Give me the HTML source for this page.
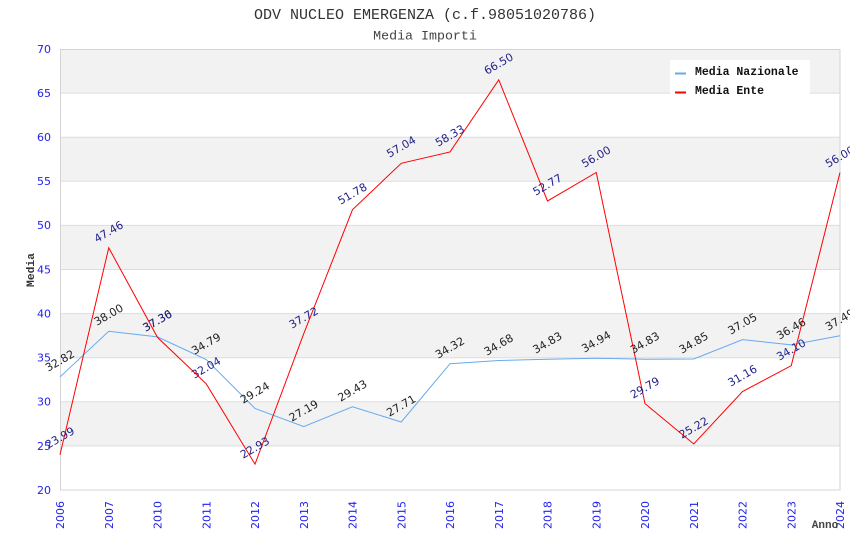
<!DOCTYPE html>
<html>
<head>
<meta charset="utf-8">
<style>
  html, body { margin: 0; padding: 0; background: #ffffff; }
  svg { display: block; }
</style>
</head>
<body>
<svg width="850" height="550" viewBox="0 0 850 550" xmlns="http://www.w3.org/2000/svg">
  <rect x="0" y="0" width="850" height="550" fill="#ffffff"/>
  <!-- bands -->
  <g fill="#f2f2f2">
    <rect x="60" y="49" width="780" height="44.1"/>
    <rect x="60" y="137.2" width="780" height="44.1"/>
    <rect x="60" y="225.4" width="780" height="44.1"/>
    <rect x="60" y="313.6" width="780" height="44.1"/>
    <rect x="60" y="401.8" width="780" height="44.1"/>
  </g>
  <!-- gridlines -->
  <g stroke="#dddddd" stroke-width="1">
    <line x1="60" y1="93.1" x2="840" y2="93.1"/>
    <line x1="60" y1="137.2" x2="840" y2="137.2"/>
    <line x1="60" y1="181.3" x2="840" y2="181.3"/>
    <line x1="60" y1="225.4" x2="840" y2="225.4"/>
    <line x1="60" y1="269.5" x2="840" y2="269.5"/>
    <line x1="60" y1="313.6" x2="840" y2="313.6"/>
    <line x1="60" y1="357.7" x2="840" y2="357.7"/>
    <line x1="60" y1="401.8" x2="840" y2="401.8"/>
    <line x1="60" y1="445.9" x2="840" y2="445.9"/>
  </g>
  <rect x="60.5" y="49.5" width="779.5" height="440.5" fill="none" stroke="#d4d4d4" stroke-width="1"/>

  <!-- y tick labels -->
  <g font-family="DejaVu Sans, Liberation Sans, sans-serif" font-size="11" fill="#2222ee" text-anchor="end">
    <text x="51" y="53">70</text>
    <text x="51" y="97">65</text>
    <text x="51" y="141">60</text>
    <text x="51" y="185">55</text>
    <text x="51" y="229">50</text>
    <text x="51" y="273.5">45</text>
    <text x="51" y="317.5">40</text>
    <text x="51" y="361.5">35</text>
    <text x="51" y="405.5">30</text>
    <text x="51" y="450">25</text>
    <text x="51" y="494">20</text>
  </g>

  <!-- x tick labels -->
  <g font-family="DejaVu Sans, Liberation Sans, sans-serif" font-size="11" fill="#2222ee" text-anchor="end">
    <text transform="translate(64,501) rotate(-90)">2006</text>
    <text transform="translate(112.75,501) rotate(-90)">2007</text>
    <text transform="translate(161.5,501) rotate(-90)">2010</text>
    <text transform="translate(210.25,501) rotate(-90)">2011</text>
    <text transform="translate(259,501) rotate(-90)">2012</text>
    <text transform="translate(307.75,501) rotate(-90)">2013</text>
    <text transform="translate(356.5,501) rotate(-90)">2014</text>
    <text transform="translate(405.25,501) rotate(-90)">2015</text>
    <text transform="translate(454,501) rotate(-90)">2016</text>
    <text transform="translate(502.75,501) rotate(-90)">2017</text>
    <text transform="translate(551.5,501) rotate(-90)">2018</text>
    <text transform="translate(600.25,501) rotate(-90)">2019</text>
    <text transform="translate(649,501) rotate(-90)">2020</text>
    <text transform="translate(697.75,501) rotate(-90)">2021</text>
    <text transform="translate(746.5,501) rotate(-90)">2022</text>
    <text transform="translate(795.25,501) rotate(-90)">2023</text>
    <text transform="translate(844,501) rotate(-90)">2024</text>
  </g>

  <!-- series lines -->
  <polyline fill="none" stroke="#66aaee" stroke-width="1"
    points="60,376.93 108.75,331.24 157.5,336.88 206.25,359.55 255,408.5 303.75,426.58 352.5,406.83 401.25,422 450,363.7 498.75,360.52 547.5,359.2 596.25,358.23 645,359.2 693.75,359.02 742.5,339.62 791.25,344.82 840,335.74"/>
  <polyline fill="none" stroke="#ff0000" stroke-width="1"
    points="60,454.81 108.75,247.8 157.5,337.41 206.25,383.81 255,464.16 303.75,333.71 352.5,209.7 401.25,163.31 450,151.93 498.75,79.87 547.5,200.97 596.25,172.48 645,403.65 693.75,443.96 742.5,391.57 791.25,365.64 840,172.48"/>

  <!-- nazionale labels -->
  <g font-family="DejaVu Sans, Liberation Sans, sans-serif" font-size="11" fill="#222222" text-anchor="middle" dominant-baseline="central">
    <text transform="translate(60,361) rotate(-30)">32.82</text>
    <text transform="translate(108.75,315) rotate(-30)">38.00</text>
    <text transform="translate(157.5,321) rotate(-30)">37.36</text>
    <text transform="translate(206.25,344) rotate(-30)">34.79</text>
    <text transform="translate(255,393) rotate(-30)">29.24</text>
    <text transform="translate(303.75,411) rotate(-30)">27.19</text>
    <text transform="translate(352.5,391) rotate(-30)">29.43</text>
    <text transform="translate(401.25,406) rotate(-30)">27.71</text>
    <text transform="translate(450,348) rotate(-30)">34.32</text>
    <text transform="translate(498.75,345) rotate(-30)">34.68</text>
    <text transform="translate(547.5,343) rotate(-30)">34.83</text>
    <text transform="translate(596.25,342) rotate(-30)">34.94</text>
    <text transform="translate(645,343) rotate(-30)">34.83</text>
    <text transform="translate(693.75,343) rotate(-30)">34.85</text>
    <text transform="translate(742.5,324) rotate(-30)">37.05</text>
    <text transform="translate(791.25,329) rotate(-30)">36.46</text>
    <text transform="translate(840,320) rotate(-30)">37.49</text>
  </g>

  <!-- ente labels -->
  <g font-family="DejaVu Sans, Liberation Sans, sans-serif" font-size="11" fill="#22228a" text-anchor="middle" dominant-baseline="central">
    <text transform="translate(60,438) rotate(-30)">23.99</text>
    <text transform="translate(108.75,232) rotate(-30)">47.46</text>
    <text transform="translate(157.5,321) rotate(-30)">37.30</text>
    <text transform="translate(206.25,368) rotate(-30)">32.04</text>
    <text transform="translate(255,448) rotate(-30)">22.93</text>
    <text transform="translate(303.75,318) rotate(-30)">37.72</text>
    <text transform="translate(352.5,194) rotate(-30)">51.78</text>
    <text transform="translate(401.25,147) rotate(-30)">57.04</text>
    <text transform="translate(450,136) rotate(-30)">58.33</text>
    <text transform="translate(498.75,64) rotate(-30)">66.50</text>
    <text transform="translate(547.5,185) rotate(-30)">52.77</text>
    <text transform="translate(596.25,157) rotate(-30)">56.00</text>
    <text transform="translate(645,388) rotate(-30)">29.79</text>
    <text transform="translate(693.75,428) rotate(-30)">25.22</text>
    <text transform="translate(742.5,376) rotate(-30)">31.16</text>
    <text transform="translate(791.25,350) rotate(-30)">34.10</text>
    <text transform="translate(840,157) rotate(-30)">56.00</text>
  </g>

  <!-- legend -->
  <rect x="670" y="60" width="140" height="36" fill="#ffffff"/>
  <rect x="675" y="72.5" width="11" height="2" fill="#66aaee"/>
  <rect x="675" y="91.5" width="11" height="2" fill="#ff0000"/>
  <g font-family="Liberation Mono, DejaVu Sans Mono, monospace" font-size="11.5" font-weight="bold" fill="#111111">
    <text x="695" y="75">Media Nazionale</text>
    <text x="695" y="94">Media Ente</text>
  </g>

  <!-- titles -->
  <text x="425" y="19" text-anchor="middle" font-family="Liberation Mono, DejaVu Sans Mono, monospace" font-size="15" fill="#333333">ODV NUCLEO EMERGENZA (c.f.98051020786)</text>
  <text x="425" y="39.5" text-anchor="middle" font-family="Liberation Mono, DejaVu Sans Mono, monospace" font-size="13.3" fill="#444444">Media Importi</text>

  <!-- axis titles -->
  <text transform="translate(34,270) rotate(-90)" text-anchor="middle" font-family="Liberation Mono, DejaVu Sans Mono, monospace" font-size="11.3" font-weight="bold" fill="#333333">Media</text>
  <text x="825" y="528" text-anchor="middle" font-family="Liberation Mono, DejaVu Sans Mono, monospace" font-size="11" font-weight="bold" fill="#444444">Anno</text>
</svg>
</body>
</html>
